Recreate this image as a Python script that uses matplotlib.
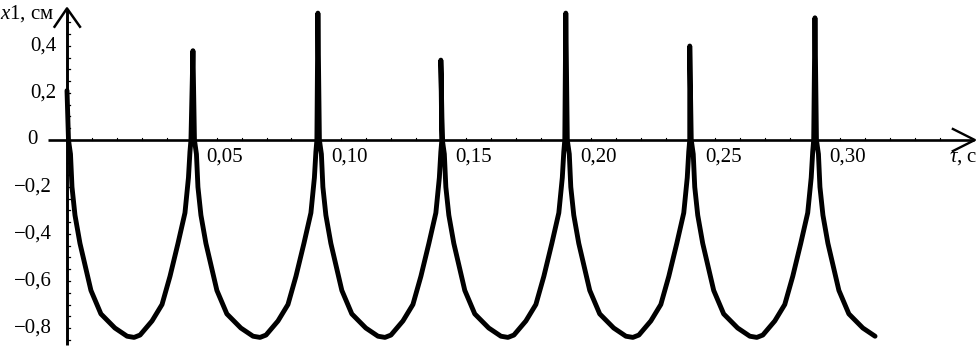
import matplotlib
matplotlib.use("Agg")
import matplotlib.pyplot as plt
import numpy as np

plt.rcParams["font.family"] = ["Liberation Serif", "DejaVu Serif"]
plt.rcParams["mathtext.fontset"] = "custom"
plt.rcParams["mathtext.it"] = "Liberation Serif:italic"
plt.rcParams["mathtext.rm"] = "Liberation Serif"

# peak instants (s) and peak heights (cm)
peak_t = [0.0, 0.0505, 0.1006, 0.1499, 0.2000, 0.2497, 0.2999]
peak_x = [0.21, 0.38, 0.54, 0.34, 0.54, 0.40, 0.52]

# one cycle: time after a peak (s) and x1 (cm)
cycle_dt = [0.0006, 0.0014, 0.0020, 0.0032, 0.0052, 0.0072, 0.0096, 0.0136,
            0.0192, 0.0241, 0.0269, 0.0293, 0.0341, 0.0381, 0.0413, 0.0445,
            0.0473, 0.0487, 0.0493, 0.0497]
cycle_x = [0.0, -0.06, -0.20, -0.32, -0.44, -0.53, -0.64, -0.74,
           -0.80, -0.835, -0.84, -0.83, -0.77, -0.70, -0.58, -0.44,
           -0.31, -0.16, -0.05, 0.0]
t_end = 0.3240

x_ticks = [0.05, 0.10, 0.15, 0.20, 0.25, 0.30]
x_tick_labels = ["0,05", "0,10", "0,15", "0,20", "0,25", "0,30"]
y_ticks = [0.4, 0.2, 0.0, -0.2, -0.4, -0.6, -0.8]
y_tick_labels = ["0,4", "0,2", "0", "\u22120,2", "\u22120,4", "\u22120,6", "\u22120,8"]

# assemble the trace
t, x = [], []
for tk, xk in zip(peak_t, peak_x):
    t.append(tk)
    x.append(xk)
    for dt, v in zip(cycle_dt, cycle_x):
        if tk + dt <= t_end:
            t.append(tk + dt)
            x.append(v)

fig = plt.figure(figsize=(9.79, 3.5), dpi=100)
ax = fig.add_axes([0, 0, 1, 1])
ax.set_xlim(-67 / 2494, 912 / 2494)
ax.set_ylim(-210 / 235, 140 / 235)
ax.axis("off")

# y axis with open arrow head and small ticks
ax.plot([0, 0], [-0.872, 0.555], color="black", lw=2.1, solid_capstyle="butt")
ax.plot([-0.0050, 0, 0.0052], [0.482, 0.560, 0.482], color="black", lw=1.8)
for yy in np.arange(-0.85, 0.51, 0.05):
    ax.plot([0, 0.0012], [yy, yy], color="black", lw=0.9)
# x axis with open arrow head and small ticks
ax.plot([-0.0076, 0.3636], [0, 0], color="black", lw=1.9, solid_capstyle="butt")
ax.plot([0.3552, 0.3640, 0.3552], [0.047, 0, -0.047], color="black", lw=1.7)
for xx in np.arange(0.01, 0.355, 0.01):
    ax.plot([xx, xx], [0, 0.008], color="black", lw=0.8)

ax.plot(t, x, color="black", lw=3.5, solid_joinstyle="round", solid_capstyle="round")

for xt, lab in zip(x_ticks, x_tick_labels):
    ax.text(xt + 0.0058, -0.072, lab, fontsize=15, ha="left", va="center")

for yt, lab in zip(y_ticks, y_tick_labels):
    if yt > 0:
        ax.text(-0.0148, yt, lab, fontsize=15, ha="left", va="center")
    elif yt == 0:
        ax.text(-0.0158, yt, lab, fontsize=15, ha="left", va="center")
    else:
        ax.text(-0.0062, yt, lab, fontsize=15, ha="right", va="center")

ax.text(-0.0268, 0.54, r"$x$1, см", fontsize=15, ha="left", va="center")
ax.text(0.3535, -0.075, r"$\tau$, c", fontsize=15, ha="left", va="center")

fig.savefig("out.png", dpi=100)
